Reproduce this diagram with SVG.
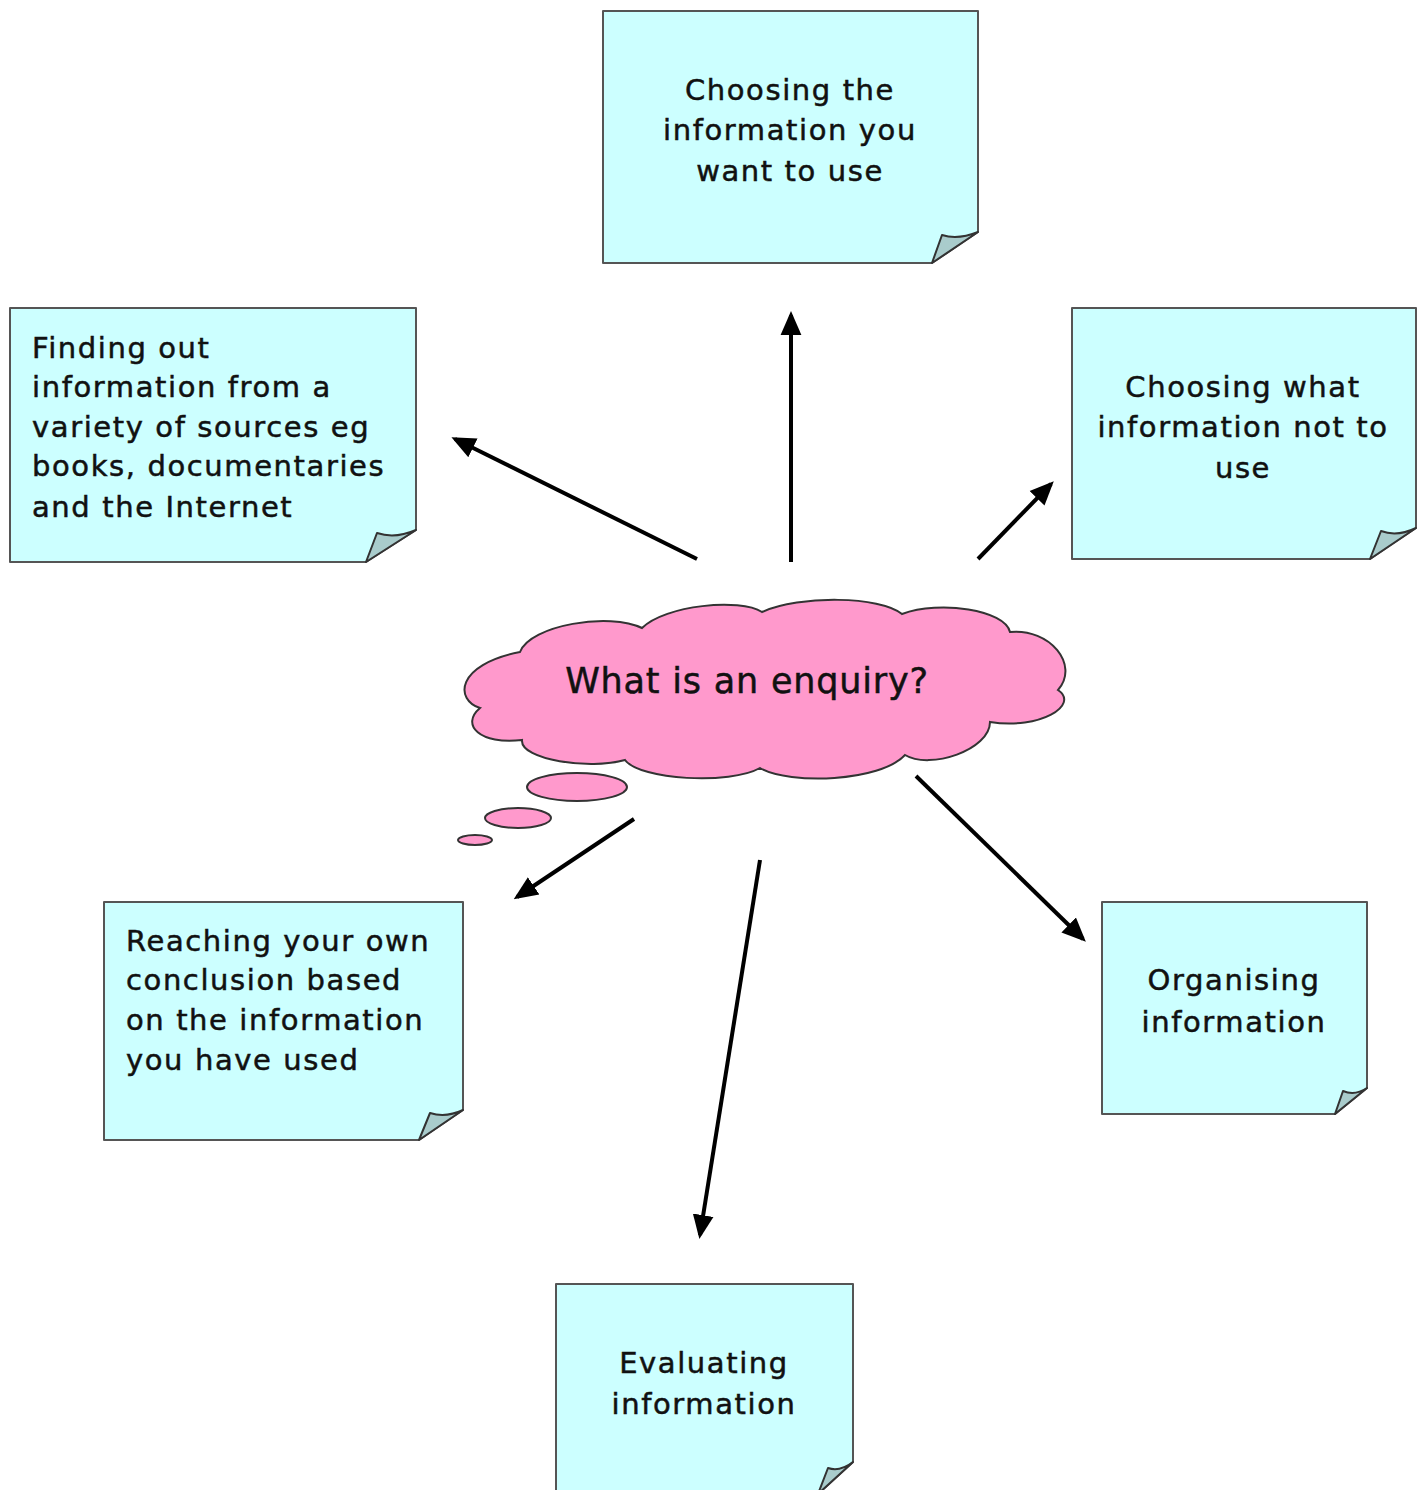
<svg xmlns="http://www.w3.org/2000/svg" width="1424" height="1490" viewBox="0 0 1424 1490">
<defs>
<style>
.note{fill:#ccffff;stroke:#555;stroke-width:2;stroke-linejoin:round}
.fold{fill:#a9cccc;stroke:#333;stroke-width:2;stroke-linejoin:round}
.t{font-family:"DejaVu Sans",Verdana,sans-serif;font-size:29px;letter-spacing:1.6px;fill:#111;stroke:#111;stroke-width:0.5}
.c{text-anchor:middle}
.arr{stroke:#000;stroke-width:4;fill:none;marker-end:url(#ah)}
.cloud{fill:#ff99cc;stroke:#333;stroke-width:2}
</style>
<marker id="ah" markerWidth="6" markerHeight="6" refX="5" refY="3" orient="auto" markerUnits="strokeWidth" viewBox="0 0 6 6">
<path d="M0,0.4 L6,3 L0,5.6 Z" fill="#000"/>
</marker>
</defs>
<rect width="1424" height="1490" fill="#fff"/>
<g id="connectors">
<line class="arr" x1="697" y1="559" x2="455" y2="439"/>
<line class="arr" x1="791" y1="562" x2="791" y2="315"/>
<line class="arr" x1="978" y1="559" x2="1051" y2="484"/>
<line class="arr" x1="634" y1="819" x2="517" y2="897"/>
<line class="arr" x1="760" y1="860" x2="700" y2="1235"/>
<line class="arr" x1="916" y1="776" x2="1083" y2="939"/>
</g>
<g id="cloud">
<path class="cloud" d="M480,708 C455,700 455,665 520,652 C530,625 610,612 642,628 C665,605 740,598 762,612 C800,595 880,596 902,614 C940,600 1005,610 1010,632 C1050,628 1080,665 1058,690 C1080,705 1040,730 990,722 C990,750 930,770 905,755 C880,782 790,785 760,768 C730,785 640,780 625,760 C590,770 520,760 522,740 C480,745 460,725 480,708 Z"/>
<ellipse class="cloud" cx="577" cy="787" rx="50" ry="14"/>
<ellipse class="cloud" cx="518" cy="818" rx="33" ry="10"/>
<ellipse class="cloud" cx="475" cy="840" rx="17" ry="5"/>
<text class="t c" x="747" y="693" style="font-size:35px;letter-spacing:0.8px">What is an enquiry?</text>
</g>
<g id="n-top">
<path class="note" d="M603,11 H978 V232 L932,263 H603 Z"/>
<path class="fold" d="M932,263 L942,235 Q958,240 978,232 Z"/>
<text class="t c" x="790" y="100">Choosing the</text>
<text class="t c" x="790" y="140">information you</text>
<text class="t c" x="790" y="181">want to use</text>
</g>
<g id="n-left">
<path class="note" d="M10,308 H416 V530 L366,562 H10 Z"/>
<path class="fold" d="M366,562 L377,533 Q395,539 416,530 Z"/>
<text class="t" x="32" y="358">Finding out</text>
<text class="t" x="32" y="397">information from a</text>
<text class="t" x="32" y="437">variety of sources eg</text>
<text class="t" x="32" y="476">books, documentaries</text>
<text class="t" x="32" y="517">and the Internet</text>
</g>
<g id="n-right">
<path class="note" d="M1072,308 H1416 V528 L1370,559 H1072 Z"/>
<path class="fold" d="M1370,559 L1381,531 Q1397,537 1416,528 Z"/>
<text class="t c" x="1243" y="397">Choosing what</text>
<text class="t c" x="1243" y="437">information not to</text>
<text class="t c" x="1243" y="478">use</text>
</g>
<g id="n-reach">
<path class="note" d="M104,902 H463 V1110 L419,1140 H104 Z"/>
<path class="fold" d="M419,1140 L430,1113 Q446,1118 463,1110 Z"/>
<text class="t" x="126" y="951">Reaching your own</text>
<text class="t" x="126" y="990">conclusion based</text>
<text class="t" x="126" y="1030">on the information</text>
<text class="t" x="126" y="1070">you have used</text>
</g>
<g id="n-org">
<path class="note" d="M1102,902 H1367 V1088 L1335,1114 H1102 Z"/>
<path class="fold" d="M1335,1114 L1343,1091 Q1355,1096 1367,1088 Z"/>
<text class="t c" x="1234" y="990">Organising</text>
<text class="t c" x="1234" y="1032">information</text>
</g>
<g id="n-eval">
<path class="note" d="M556,1284 H853 V1462 L818,1494 H556 Z"/>
<path class="fold" d="M818,1494 L828,1468 Q840,1472 853,1462 Z"/>
<text class="t c" x="704" y="1373">Evaluating</text>
<text class="t c" x="704" y="1414">information</text>
</g>
</svg>
